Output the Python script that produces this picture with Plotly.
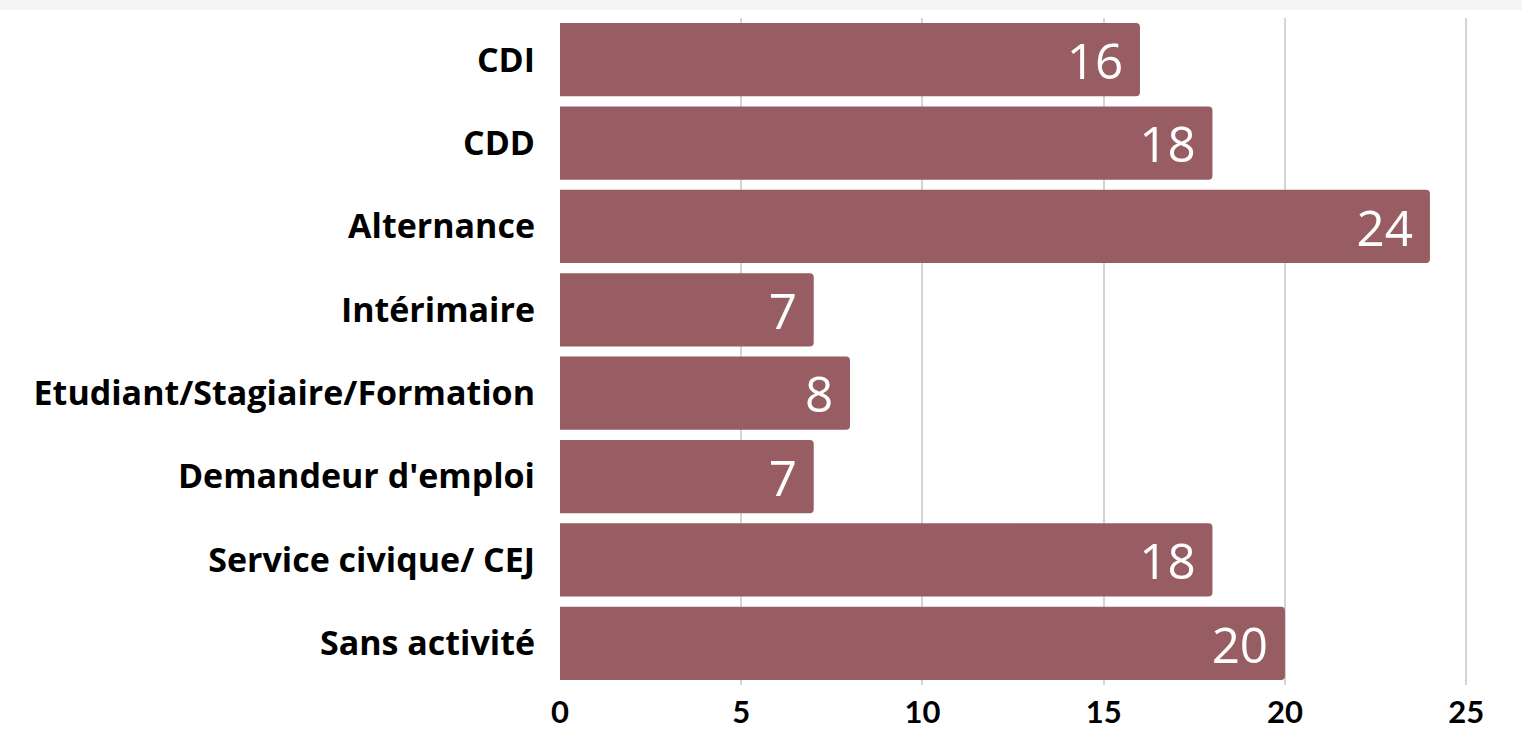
import plotly.graph_objects as go

categories = ["CDI", "CDD", "Alternance", "Intérimaire",
              "Etudiant/Stagiaire/Formation", "Demandeur d'emploi",
              "Service civique/ CEJ", "Sans activité"]
values = [16, 18, 24, 7, 8, 7, 18, 20]
tick_vals = [0, 5, 10, 15, 20, 25]

fig = go.Figure(go.Bar(
    x=values, y=categories, orientation="h",
    marker=dict(color="#985C63", line=dict(width=0)),
    texttemplate="%{x}\u00a0",
    textposition="inside", insidetextanchor="end", textangle=0,
    constraintext="none",
    textfont=dict(family="Open Sans", size=55, color="white"),
    cliponaxis=False,
))

fig.update_layout(
    width=1522, height=733,
    margin=dict(l=560, r=54, t=18, b=48, autoexpand=False),
    paper_bgcolor="white", plot_bgcolor="white",
    bargap=0.12, barcornerradius=4,
    showlegend=False,
    shapes=[dict(type="rect", xref="paper", yref="paper", x0=-1, x1=2,
                 y0=1.012, y1=2, fillcolor="#f5f5f5", line=dict(width=0),
                 layer="below")],
)
fig.update_xaxes(range=[0, 25.05], tickvals=tick_vals, showgrid=True,
                 gridcolor="#d4d4d4", gridwidth=1.5, zeroline=False,
                 showline=False, ticklabelstandoff=6, automargin=False,
                 tickfont=dict(family="Lato", size=31, color="black", weight="bold"))
fig.update_yaxes(autorange="reversed", showgrid=False, showline=False,
                 ticklabelstandoff=24, automargin=False,
                 tickfont=dict(family="Open Sans", size=34, color="black", weight="bold"))

fig.write_html("out.html", config={"displayModeBar": False},
               post_script="document.body.style.margin='0';")
